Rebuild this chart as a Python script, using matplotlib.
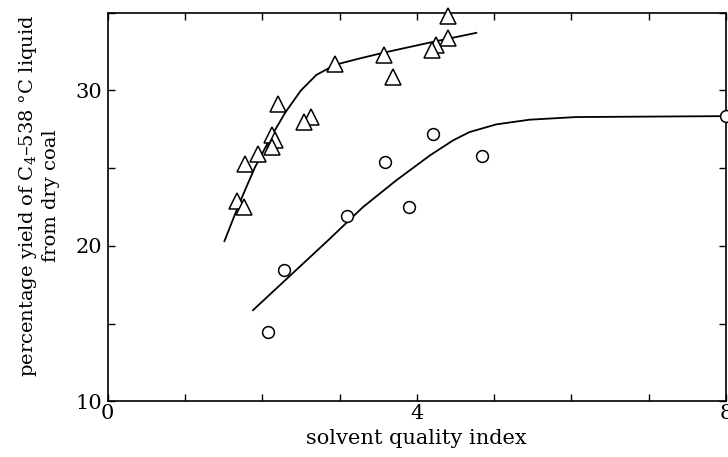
import matplotlib
matplotlib.use("Agg")
import matplotlib.pyplot as plt
from matplotlib.ticker import MultipleLocator, FixedLocator

plt.rcParams['font.family'] = ['DejaVu Serif']
plt.rcParams['mathtext.fontset'] = 'dejavuserif'

# triangles (upper series)
tri_x = [4.40, 4.41, 4.25, 4.20, 3.57, 3.69, 2.94, 2.21, 2.63, 2.54,
         2.13, 2.17, 2.13, 1.95, 1.78, 1.67, 1.76]
tri_y = [34.8, 33.4, 32.9, 32.6, 32.3, 30.9, 31.7, 29.1, 28.3, 28.0,
         27.15, 26.8, 26.35, 25.9, 25.25, 22.9, 22.5]

# circles (lower series)
circ_x = [4.21, 3.59, 4.85, 3.90, 3.10, 2.28, 2.08, 8.0]
circ_y = [27.2, 25.4, 25.8, 22.5, 21.9, 18.45, 14.45, 28.35]

# hand-drawn fit curves
tri_curve_x = [1.51, 1.70, 1.90, 2.10, 2.30, 2.50, 2.70, 2.94, 3.26, 3.56, 4.21, 4.77]
tri_curve_y = [20.3, 22.7, 25.0, 26.9, 28.6, 30.0, 31.0, 31.65, 32.06, 32.42, 33.13, 33.71]

circ_curve_x = [1.88, 2.87, 3.30, 3.73, 4.17, 4.47, 4.68, 5.03, 5.46, 6.06, 8.0]
circ_curve_y = [15.86, 20.44, 22.48, 24.2, 25.82, 26.79, 27.32, 27.82, 28.12, 28.29, 28.35]

fig = plt.figure(figsize=(7.28, 4.57), dpi=100)
ax = fig.add_axes([0.148, 0.122, 0.849, 0.850])

ax.plot(tri_curve_x, tri_curve_y, color="black", lw=1.3, zorder=2)
ax.plot(circ_curve_x, circ_curve_y, color="black", lw=1.3, zorder=2)
ax.plot(tri_x, tri_y, ls="none", marker="^", ms=11, mfc="white",
        mec="black", mew=1.1, zorder=3, clip_on=False)
ax.plot(circ_x, circ_y, ls="none", marker="o", ms=8.5, mfc="white",
        mec="black", mew=1.1, zorder=3, clip_on=False)

ax.set_xlim(0, 8)
ax.set_ylim(10, 35)
ax.xaxis.set_major_locator(FixedLocator([0, 4, 8]))
ax.xaxis.set_minor_locator(MultipleLocator(1))
ax.yaxis.set_major_locator(FixedLocator([10, 20, 30]))
ax.yaxis.set_minor_locator(MultipleLocator(5))
ax.tick_params(which="both", direction="in", top=True, right=True,
               length=5, width=1.0, labelsize=15)
ax.tick_params(axis="x", pad=2)
ax.tick_params(axis="y", pad=4)
for side in ("left", "right", "top", "bottom"):
    ax.spines[side].set_linewidth(1.2)

ax.set_xlabel("solvent quality index", fontsize=15, labelpad=4)
ax.set_ylabel("percentage yield of C$_4$–538 °C liquid\nfrom dry coal",
              fontsize=14, linespacing=1.15)
ax.yaxis.set_label_coords(-0.078, 0.53)

fig.savefig("out.png", dpi=100)
